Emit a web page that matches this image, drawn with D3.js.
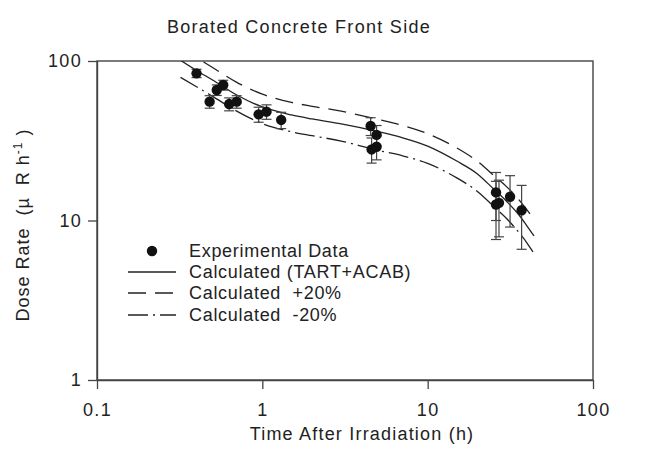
<!DOCTYPE html>
<html>
<head>
<meta charset="utf-8">
<script src="https://cdn.jsdelivr.net/npm/d3@7/dist/d3.min.js"></script>
<style>
  html, body { margin: 0; padding: 0; background: #fff; }
  text { font-family: "Liberation Sans", Arial, Helvetica, sans-serif; fill: #222; white-space: pre; }
</style>
</head>
<body>
<svg id="chart" width="650" height="462"></svg>
<script>
// ---- data ----
const expTime = [0.40, 0.58, 0.53, 0.48, 0.63, 0.70, 0.95, 1.06, 1.30, 4.52, 4.91, 4.58, 4.91, 25.9, 25.9, 27.0, 31.5, 37.0];
const expDose = [83.7, 70.7, 65.8, 55.6, 53.7, 55.6, 46.3, 48.1, 42.7, 39.1, 34.4, 27.9, 29.0, 15.0, 12.6, 12.9, 14.1, 11.6];
const expErr  = [5, 5, 5, 5, 5, 5, 5, 5, 5, 5, 5, 5, 5, 5, 5, 5, 5, 5];

const calcTime  = [0.32, 0.4, 0.5, 0.7, 1, 1.5, 2, 3, 5, 7, 10, 15, 20, 25, 30, 35, 40, 44];
const calcDose  = [101, 87.2, 76.0, 61.2, 51.5, 45.9, 43.3, 40.3, 36.1, 33.1, 29.3, 23.6, 19.6, 15.8, 13.2, 11.1, 9.2, 8.0];
const plusDose  = [121, 105, 91, 73.5, 62, 55, 52, 48.5, 43, 39.5, 35, 28.5, 23.5, 19.2, 16.3, 13.8, 11.6, 10.2];
const minusDose = [79, 69, 60, 48.5, 40.5, 36, 34, 31.5, 27.5, 25.5, 22.8, 18.5, 15.2, 12.3, 10.3, 8.6, 7.2, 6.2];

const xTicks = [0.1, 1, 10, 100];
const yTicks = [1, 10, 100];
const legendLabels = ["Experimental Data", "Calculated (TART+ACAB)", "Calculated  +20%", "Calculated  -20%"];
const titleText = "Borated Concrete Front Side";

// ---- drawing ----
const svg = d3.select("#chart");
svg.append("rect").attr("width", 650).attr("height", 462).attr("fill", "#fff");

const L = 97, R = 593, T = 61, B = 380;
const x = d3.scaleLog().domain([0.1, 100]).range([L, R]);
const y = d3.scaleLog().domain([1, 100]).range([B, T]);

const ink = "#222";
const fmt = d => (d < 1 ? d3.format(".1f")(d) : d3.format("d")(d));

svg.append("defs").append("clipPath").attr("id", "clip")
  .append("rect").attr("x", L).attr("y", T).attr("width", R - L).attr("height", B - T);

// frame
svg.append("rect").attr("x", L).attr("y", T).attr("width", R - L).attr("height", B - T)
  .attr("fill", "none").attr("stroke", "#444").attr("stroke-width", 1.4);

// axes
const xAxis = svg.append("g").attr("transform", `translate(0,${B})`)
  .call(d3.axisBottom(x).tickValues(xTicks).tickFormat(fmt).tickSize(9).tickPadding(14).tickSizeOuter(0));
const yAxis = svg.append("g").attr("transform", `translate(${L},0)`)
  .call(d3.axisLeft(y).tickValues(yTicks).tickFormat(fmt).tickSize(9).tickPadding(6).tickSizeOuter(0));
[xAxis, yAxis].forEach(g => {
  g.select(".domain").attr("stroke", "#444").attr("stroke-width", 1.4);
  g.selectAll(".tick line").attr("stroke", "#444").attr("stroke-width", 1.3);
  g.selectAll(".tick text").attr("font-size", 18).attr("letter-spacing", 1.3)
    .attr("fill", ink).style("font-family", '"Liberation Sans", Arial, sans-serif');
});

// curves
const line = d3.line().x(d => x(d[0])).y(d => y(d[1])).curve(d3.curveMonotoneX);
const curves = [
  { data: calcDose, dash: null },
  { data: plusDose, dash: "18,9" },
  { data: minusDose, dash: "20,5,2,5" }
];
const plot = svg.append("g").attr("clip-path", "url(#clip)");
curves.forEach(c => {
  plot.append("path")
    .datum(calcTime.map((t, i) => [t, c.data[i]]))
    .attr("d", line).attr("fill", "none").attr("stroke", ink).attr("stroke-width", 1.3)
    .attr("stroke-dasharray", c.dash);
});

// error bars + points
const pts = expTime.map((t, i) => ({ t, v: expDose[i], e: expErr[i] }));
const eb = plot.append("g").attr("stroke", "#444").attr("stroke-width", 1.2);
pts.forEach(p => {
  const cx = x(p.t), y1 = y(p.v + p.e), y2 = y(p.v - p.e);
  eb.append("line").attr("x1", cx).attr("x2", cx).attr("y1", y1).attr("y2", y2);
  eb.append("line").attr("x1", cx - 5).attr("x2", cx + 5).attr("y1", y1).attr("y2", y1);
  eb.append("line").attr("x1", cx - 5).attr("x2", cx + 5).attr("y1", y2).attr("y2", y2);
});
plot.append("g").selectAll("circle").data(pts).join("circle")
  .attr("cx", d => x(d.t)).attr("cy", d => y(d.v)).attr("r", 5.2).attr("fill", "#111");

// title and axis labels
svg.append("text").attr("x", 299).attr("y", 33).attr("text-anchor", "middle")
  .attr("font-size", 18).attr("letter-spacing", 1.3).text(titleText);
svg.append("text").attr("x", 362).attr("y", 440).attr("text-anchor", "middle")
  .attr("font-size", 18).attr("letter-spacing", 1.2).text("Time After Irradiation (h)");
const yl = svg.append("text").attr("transform", "translate(29,225) rotate(-90)")
  .attr("text-anchor", "middle").attr("font-size", 18).attr("letter-spacing", 1.0);
yl.append("tspan").text("Dose Rate  (\u00B5  R h");
yl.append("tspan").attr("font-size", 12).attr("dy", -7).text("-1");
yl.append("tspan").attr("dy", 7).text(" )");

// legend
const legY = [251, 272, 293, 315];
const lg = svg.append("g");
lg.append("circle").attr("cx", 152).attr("cy", legY[0]).attr("r", 5.2).attr("fill", "#111");
[null, "18,9", "20,5,2,5"].forEach((dash, i) => {
  lg.append("line").attr("x1", 128).attr("x2", 176).attr("y1", legY[i + 1]).attr("y2", legY[i + 1])
    .attr("stroke", ink).attr("stroke-width", 1.3).attr("stroke-dasharray", dash);
});
legendLabels.forEach((t, i) => {
  lg.append("text").attr("x", 189).attr("y", legY[i]).attr("dy", "0.35em")
    .attr("font-size", 18).attr("letter-spacing", 0.7).text(t);
});
</script>
</body>
</html>
